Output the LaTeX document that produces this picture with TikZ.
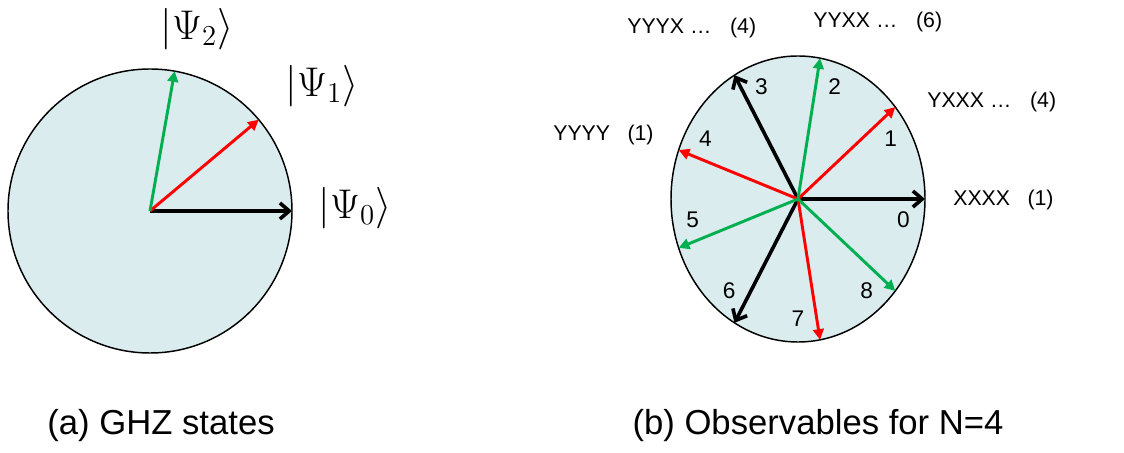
\documentclass[tikz,border=0pt]{standalone}
\usepackage{graphicx}
\usepackage{fontspec}
\setmainfont{Liberation Sans}
\usetikzlibrary{arrows.meta}
\definecolor{diskfill}{RGB}{218,236,238}
\definecolor{vecred}{RGB}{255,0,0}
\definecolor{vecgreen}{RGB}{0,176,80}
\newcommand{\ketlabel}[1]{\scalebox{1.5}{$|\Psi_{#1}\rangle$}}

\begin{document}
\begin{tikzpicture}[x=0.75pt,y=0.75pt,
  disk/.style={draw=black,fill=diskfill,line width=1.1pt},
  kv/.style={-{Straight Barb[length=7pt,width=12pt]},line width=2.7pt,black},
  rv/.style={-{Triangle[length=8pt,width=8pt]},line width=2.2pt,vecred},
  gv/.style={-{Triangle[length=8pt,width=8pt]},line width=2.2pt,vecgreen},
  ket/.style={font=\fontsize{20.74}{25}\selectfont,inner sep=0pt},
  obs/.style={font=\fontsize{16}{19}\selectfont,inner sep=0pt,anchor=west},
  num/.style={font=\fontsize{17}{20}\selectfont,inner sep=0pt},
  captext/.style={font=\fontsize{26}{31}\selectfont,inner sep=0pt,anchor=base}]
\useasboundingbox (0,0) rectangle (1124,453);
% (a) GHZ states
\begin{scope}[shift={(150,242)}]
\draw[disk] (0,0) circle (142);
\coordinate (c) at (0,0);
\coordinate (s0) at (0:142);\coordinate (s1) at (40:142);\coordinate (s2) at (80:142);
\draw[kv] (c)--(s0);\draw[rv] (c)--(s1);\draw[gv] (c)--(s2);
\end{scope}
\node[ket] (p0) at (355,245) {\ketlabel{0}};
\node[ket] (p1) at (322,367) {\ketlabel{1}};
\node[ket] (p2) at (197,424) {\ketlabel{2}};
% (b) observables, 9 directions 40 deg apart
\begin{scope}[shift={(798,254)}]
\draw[disk] (0,0) ellipse (127 and 143);
\coordinate (o) at (0,0);
\coordinate (e0) at (0:127 and 143);\coordinate (e1) at (40:127 and 143);\coordinate (e2) at (80:127 and 143);
\coordinate (e3) at (120:127 and 143);\coordinate (e4) at (160:127 and 143);\coordinate (e5) at (200:127 and 143);
\coordinate (e6) at (240:127 and 143);\coordinate (e7) at (280:127 and 143);\coordinate (e8) at (320:127 and 143);
\draw[kv] (o)--(e0);\draw[kv] (o)--(e3);\draw[kv] (o)--(e6);
\draw[rv] (o)--(e1);\draw[rv] (o)--(e4);\draw[rv] (o)--(e7);
\draw[gv] (o)--(e2);\draw[gv] (o)--(e5);\draw[gv] (o)--(e8);
\node[num] (n0) at (-10:107 and 120) {0};\node[num] (n1) at (30:107 and 120) {1};\node[num] (n2) at (70:107 and 120) {2};
\node[num] (n3) at (110:107 and 120) {3};\node[num] (n4) at (150:107 and 120) {4};\node[num] (n5) at (190:107 and 120) {5};
\node[num] (n6) at (230:107 and 120) {6};\node[num] (n7) at (270:107 and 120) {7};\node[num] (n8) at (310:107 and 120) {8};
\end{scope}
\node[obs] (l0) at (953,253) {XXXX\hspace{13pt}(1)};
\node[obs] (l1) at (927,351) {YXXX \ldots\hspace{14pt}(4)};
\node[obs] (l2) at (813,431) {YYXX \ldots\hspace{14pt}(6)};
\node[obs] (l3) at (627,425) {YYYX \ldots\hspace{14pt}(4)};
\node[obs] (l4) at (553,318) {YYYY\hspace{13pt}(1)};
% captions
\node[captext] (ca) at (161,18) {(a) GHZ states};
\node[captext] (cb) at (818,18) {(b) Observables for N=4};
\end{tikzpicture}
\end{document}
